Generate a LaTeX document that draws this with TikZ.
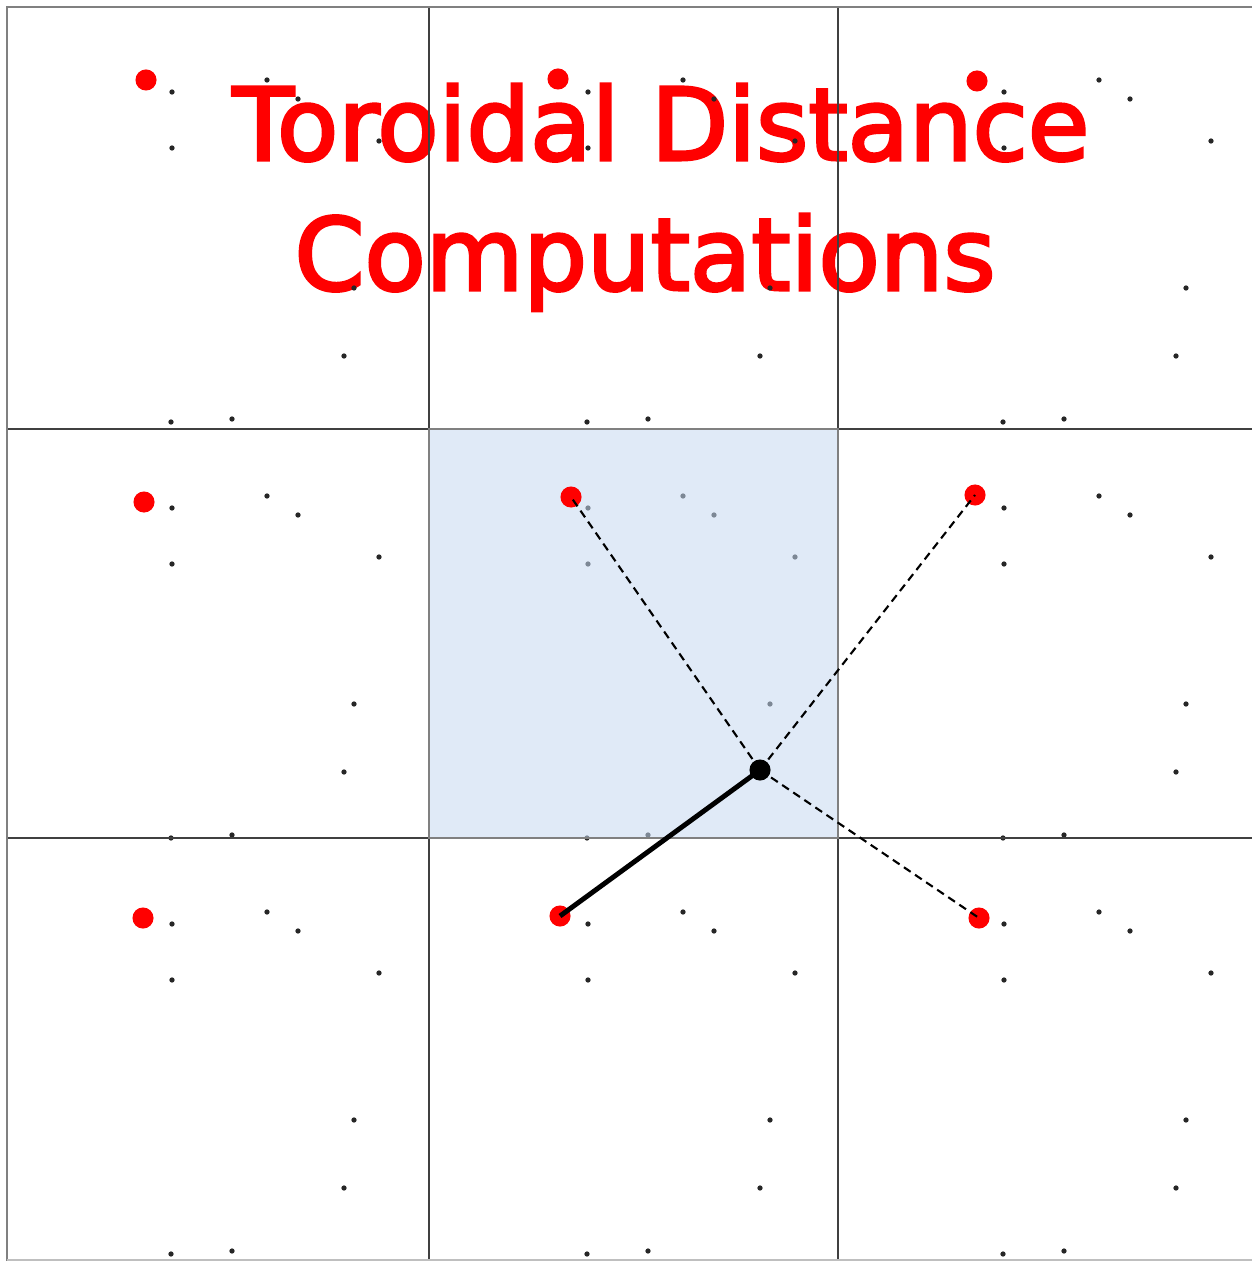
\documentclass[tikz,border=0pt]{standalone}
\usepackage{fontspec}
\setmainfont{DejaVu Sans}
\newfontfamily\headingfont{DejaVu Sans}[FakeBold=3]
\definecolor{cellblue}{HTML}{C6D9F1}

\begin{document}
\begin{tikzpicture}[x=0.01cm,y=-0.01cm,
  heading/.style={red,font=\headingfont\fontsize{28.5}{34}\selectfont,inner sep=0pt,anchor=base},
  reddot/.style={circle,fill=red,inner sep=0pt,minimum size=6pt},
  query/.style={circle,fill=black,inner sep=0pt,minimum size=6pt},
  nearest/.style={line width=1.4pt},
  image/.style={line width=0.6pt,dash pattern=on 2.3pt off 1.5pt}]
\useasboundingbox (0,0) rectangle (1252,1261);

% title
\node[heading] (line1) at (661,160) {Toroidal Distance};
\node[heading] (line2) at (645,290) {Computations};

% the same points in every copy of the cell
\foreach \i in {0,1,2}
  \foreach \j in {0,1,2}
    \foreach \x/\y in {172/92,267/80,298/99,172/148,379/141,354/288,344/356,171/422,232/419}
      \fill[black!85] (\x+416*\i,\y+416*\j) circle[radius=0.75pt];

% the cell itself
\fill[cellblue,opacity=0.55] (429,429) rectangle (838,838);

% grid
\draw[black!75,line width=0.3pt] (429,7) -- (429,1261);
\draw[black!75,line width=0.3pt] (838,7) -- (838,1261);
\draw[black!75,line width=0.3pt] (7,429) -- (1252,429);
\draw[black!75,line width=0.3pt] (7,838) -- (1252,838);
\draw[gray,line width=0.6pt] (429,429) rectangle (838,838);
\draw[gray,line width=0.6pt] (7,1261) -- (7,7) -- (1252,7);
\draw[black!25,line width=0.5pt] (7,1260) -- (1252,1260);

% copies of the red point
\node[reddot] (tl) at (146,80) {};
\node[reddot] (tc) at (558,79) {};
\node[reddot] (tr) at (977,81) {};
\node[reddot] (ml) at (144,502) {};
\node[reddot] (mc) at (571,497) {};
\node[reddot] (mr) at (975,495) {};
\node[reddot] (bl) at (143,918) {};
\node[reddot] (bc) at (560,916) {};
\node[reddot] (br) at (979,918) {};

\node[query] (q) at (760,770) {};

\draw[image] (q.center) -- (mc.center);
\draw[image] (q.center) -- (mr.center);
\draw[image] (q.center) -- (br.center);
\draw[nearest] (q.center) -- (bc.center);
\end{tikzpicture}
\end{document}
